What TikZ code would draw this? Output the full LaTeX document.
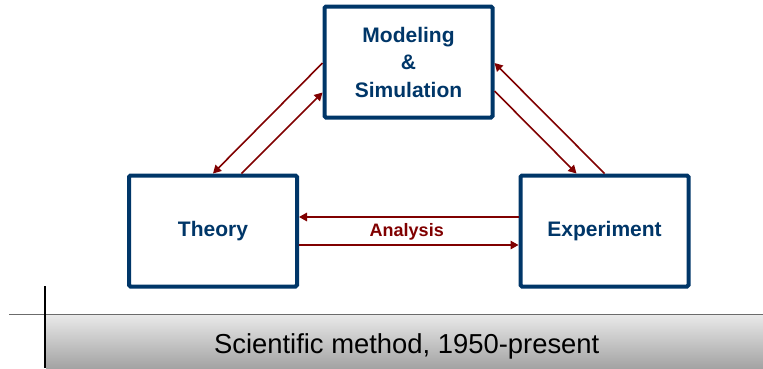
\documentclass[tikz,border=0pt]{standalone}
\usepackage{fontspec}
\setmainfont{Liberation Sans}
\usetikzlibrary{arrows.meta,calc}
\definecolor{boxblue}{RGB}{0,54,104}
\definecolor{arrowred}{RGB}{128,0,0}
\tikzset{
  stagebox/.style={draw=boxblue, line width=4pt, rounded corners=1.5pt,
    minimum width=168pt, minimum height=111pt, inner sep=0pt,
    text=boxblue, font=\fontsize{21}{27.5}\selectfont\bfseries, align=center},
  flow/.style={draw=arrowred, line width=1.6pt,
    -{Triangle[length=8pt,width=8.5pt]}},
  flowlabel/.style={text=arrowred, font=\fontsize{18}{22}\selectfont\bfseries}
}
\begin{document}
\begin{tikzpicture}[x=1pt,y=-1pt]
  \useasboundingbox (0,0) rectangle (763,368);

  % the three stages
  \node[stagebox] (model) at (408.5,62) {Modeling\\\&\\Simulation};
  \node[stagebox] (theory) at (213,231) {Theory};
  \node[stagebox] (experiment) at (604.5,231) {Experiment};

  % links between modeling and theory
  \draw[flow] ($(model.west)+(0,1)$) -- (theory.north);
  \draw[flow] ($(theory.north)+(28.5,0)$) -- ($(model.west)+(0,30.5)$);

  % links between modeling and experiment
  \draw[flow] ($(model.east)+(0,29)$) -- ($(experiment.north)+(-28,0)$);
  \draw[flow] (experiment.north) -- ($(model.east)+(0,1)$);

  % links between theory and experiment
  \draw[flow] ($(experiment.west)+(0,-14)$) -- ($(theory.east)+(0,-14)$);
  \draw[flow] ($(theory.east)+(0,14)$) -- ($(experiment.west)+(0,14)$);
  \node[flowlabel] (analysis) at ($(theory.east)!0.5!(experiment.west)+(-2,0.5)$) {Analysis};

  % caption band
  \shade[top color=black!9, bottom color=black!36] (46,315.5) rectangle (763,368);
  \coordinate (ruleL) at (9,314.5);
  \coordinate (ruleR) at (763,314.5);
  \draw[black!58, line width=1.6pt] (ruleL) -- (ruleR);
  \coordinate (tickT) at (45,286);
  \coordinate (tickB) at (45,368);
  \draw[black, line width=1.2pt] (tickT) -- (tickB);
  \node[font=\fontsize{27.4}{30}\selectfont, anchor=base] (caption) at (406.7,353)
    {Scientific method, 1950-present};
\end{tikzpicture}
\end{document}
